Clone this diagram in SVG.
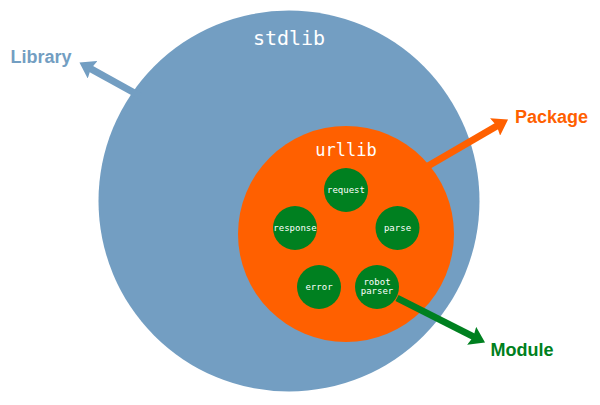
<svg xmlns="http://www.w3.org/2000/svg" width="600" height="405" viewBox="0 0 600 405">
<style>
.mono{font-family:"DejaVu Sans Mono","Liberation Mono",monospace;fill:#ffffff;text-anchor:middle}
.lbl{font-family:"Liberation Sans","DejaVu Sans",sans-serif;font-weight:bold;font-size:18px}
.node{fill:#008020}
.nt{font-size:9px}
</style>
<defs>
<marker id="hb" markerUnits="userSpaceOnUse" markerWidth="15" markerHeight="20" refX="5" refY="10" orient="auto" viewBox="0 0 15 20"><path d="M0,0 L15,10 L0,20 L2,10 z" fill="#739ec2"/></marker>
<marker id="ho" markerUnits="userSpaceOnUse" markerWidth="15" markerHeight="20" refX="5" refY="10" orient="auto" viewBox="0 0 15 20"><path d="M0,0 L15,10 L0,20 L2,10 z" fill="#ff6000"/></marker>
<marker id="hg" markerUnits="userSpaceOnUse" markerWidth="15" markerHeight="20" refX="5" refY="10" orient="auto" viewBox="0 0 15 20"><path d="M0,0 L15,10 L0,20 L2,10 z" fill="#008020"/></marker>
</defs>
<rect width="600" height="405" fill="#ffffff"/>
<g id="stdlib">
<circle cx="289" cy="201" r="190.5" fill="#739ec2"/>
<text class="mono" x="289" y="45" font-size="20">stdlib</text>
</g>
<g id="urllib">
<circle cx="346" cy="234" r="108" fill="#ff6000"/>
<text class="mono" x="346" y="155.5" font-size="17">urllib</text>
</g>
<g id="request"><circle class="node" cx="346" cy="190" r="22"/><text class="mono nt" x="346" y="193">request</text></g>
<g id="response"><circle class="node" cx="295" cy="228" r="22"/><text class="mono nt" x="295" y="231">response</text></g>
<g id="parse"><circle class="node" cx="397.5" cy="228" r="22"/><text class="mono nt" x="397.5" y="231">parse</text></g>
<g id="error"><circle class="node" cx="319" cy="287" r="22"/><text class="mono nt" x="319" y="290">error</text></g>
<g id="robotparser"><circle class="node" cx="377" cy="287" r="22"/><text class="mono nt" x="377" y="284.5">robot</text><text class="mono nt" x="377" y="293.5">parser</text></g>
<g id="connectors" fill="none" stroke-width="7">
<line x1="140" y1="96" x2="88.2" y2="67.4" stroke="#739ec2" marker-end="url(#hb)"/>
<line x1="428" y1="166" x2="499.4" y2="124.5" stroke="#ff6000" marker-end="url(#ho)"/>
<line x1="397" y1="298" x2="476.1" y2="338" stroke="#008020" marker-end="url(#hg)"/>
</g>
<g id="labels">
<text class="lbl" x="10.5" y="62.5" fill="#739ec2">Library</text>
<text class="lbl" x="515" y="122.5" fill="#ff6000">Package</text>
<text class="lbl" x="490.5" y="355.5" fill="#008020">Module</text>
</g>
</svg>
